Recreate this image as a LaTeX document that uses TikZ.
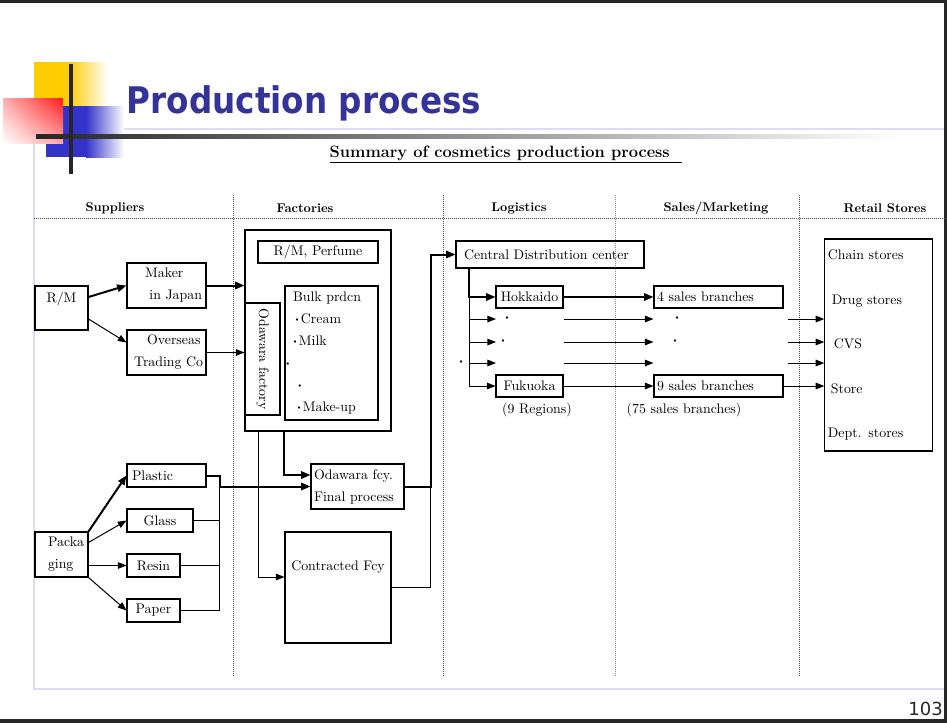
\documentclass[tikz,border=0pt]{standalone}
\usepackage{fontspec}
\usepackage{graphicx}
\usetikzlibrary{calc,arrows.meta,shadings}
\newfontfamily\titlefont{DejaVu Sans}
\newcommand{\bodyfont}{\fontsize{10.4}{16.5}\selectfont}
\newcommand{\midot}{\raisebox{1.4pt}{\scalebox{0.45}{$\bullet$}}}
\definecolor{TitleBlue}{HTML}{333399}
\definecolor{FrameLav}{HTML}{DCDCF4}
\definecolor{SqYellow}{HTML}{FFCC00}
\definecolor{SqBlue}{HTML}{3333CC}
\definecolor{SqRed}{HTML}{FF1A1A}

\begin{document}
\begin{tikzpicture}[x=0.75pt,y=-0.75pt,
    box/.style={draw,line width=0.8pt,inner sep=2pt,font=\bodyfont},
    boxsize/.style 2 args={minimum width=#1*0.75pt,minimum height=#2*0.75pt},
    hdr/.style={font=\bfseries\fontsize{9.5}{11}\selectfont},
    sepline/.style={densely dotted,line width=0.5pt,black!70},
    arr/.style={line width=0.75pt,-{Stealth[length=6.5pt,width=5pt,inset=0pt]}},
    thickarr/.style={line width=1.5pt,-{Stealth[length=7pt,width=5.5pt,inset=0pt]}},
    wire/.style={line width=0.75pt},
    ellip/.style={inner sep=0pt,font=\bodyfont}]

    \useasboundingbox (0,0) rectangle (947,722);

    % Slide frame
    \draw[FrameLav,line width=1.5pt] (34,129) rectangle (945,689);
    \draw[line width=2.2pt,black!85] (0,1.5) -- (947,1.5);
    \draw[line width=2.2pt,black!85] (945.8,0) -- (945.8,722);
    \draw[line width=3pt,black!85] (0,720.5) -- (947,720.5);

    % Coloured squares of the title
    \fill[SqYellow] (34,62) rectangle (68,107);
    \shade[left color=SqYellow,right color=white] (68,62) rectangle (108,107);
    \fill[SqBlue] (46,106) rectangle (86,157);
    \shade[left color=SqBlue,right color=white] (86,106) rectangle (124,157);
    \shade[upper right=SqRed,upper left=SqRed!35,lower right=SqRed!40,lower left=white] (3,98) rectangle (63,143);

    % Cross lines of the title
    \shade[left color=black!85,right color=white] (36,134) rectangle (900,138.5);
    \draw[line width=3pt,black!85] (71,64) -- (71,174);

    % Title and summary line
    \node[anchor=base west,text=TitleBlue,font=\titlefont\bfseries\fontsize{27.5}{30}\selectfont] (title) at (122,113) {\scalebox{0.89}[1]{Production process}};
    \node[anchor=base west,font=\bfseries\fontsize{12.3}{14}\selectfont] (summary) at (325,157) {\underline{Summary of cosmetics production process\ \ }};
    \node[anchor=base east,text=black!85,font=\titlefont\fontsize{13.5}{15}\selectfont,inner sep=0pt] (pagenum) at (943,715) {103};

    % Column separators
    \draw[sepline] (34,218) -- (947,218);
    \draw[sepline] (233,195) -- (233,677);
    \draw[sepline] (443,195) -- (443,677);
    \draw[sepline,black!45] (615,195) -- (615,677);
    \draw[sepline] (799,195) -- (799,677);

    % Column headings
    \node[hdr] (hsup) at (115,208) {Suppliers};
    \node[hdr] (hfac) at (305,208) {Factories};
    \node[hdr] (hlog) at (519,208) {Logistics};
    \node[hdr] (hsal) at (716,208) {Sales/Marketing};
    \node[hdr] (hret) at (885,208) {Retail Stores};

    % Suppliers
    \node[box,boxsize={53}{44},align=center] (rm) at (61.5,308) {R/M\\~};
    \node[box,boxsize={79}{45},inner xsep=3pt,text width=53.25pt,align=right] (maker) at (166.5,285.5) {Maker\hspace*{14pt}\mbox{}\\in Japan};
    \node[box,boxsize={79}{45},inner xsep=2pt,text width=55pt,align=right] (overseas) at (166.5,352.5) {Overseas\hspace*{2pt}\mbox{}\\Trading Co};
    \node[box,boxsize={53}{45},inner xsep=9.75pt,text width=20.25pt,align=left] (pack) at (61.5,554.5) {Packa\\ging};
    \node[box,boxsize={79}{23},inner xsep=3.75pt,text width=51.75pt,align=left] (plastic) at (166.5,475.5) {Plastic};
    \node[box,boxsize={66}{23}] (glass) at (160,520.5) {Glass};
    \node[box,boxsize={53}{23}] (resin) at (153.5,565.5) {Resin};
    \node[box,boxsize={53}{23}] (paper) at (153.5,610.5) {Paper};

    % Factories
    \node[box,boxsize={146}{201}] (fac) at (318,330.5) {};
    \node[box,boxsize={120}{22}] (rmperf) at (318,252) {R/M, Perfume};
    \node[box,boxsize={93}{134},inner xsep=6pt,text width=57.75pt,align=left] (bulk) at (331.5,353)
        {Bulk prdcn\\\hspace*{2pt}\midot\,Cream\\\hspace*{0.5pt}\midot\,Milk\\\hspace*{-5pt}\midot\\\hspace*{4pt}\midot\\\hspace*{3.5pt}\midot\,Make-up};
    \node[box,boxsize={112}{35},rotate=-90] (odaw) at (262.5,359) {Odawara factory};
    \node[box,boxsize={93}{45},inner xsep=2.25pt,text width=65.25pt,align=left] (odafcy) at (357.5,486.5) {Odawara fcy.\\Final process};
    \node[box,boxsize={106}{111},align=center] (contr) at (338,587.5) {Contracted Fcy\\~\\~};

    % Logistics
    \node[box,boxsize={188}{27},inner xsep=6pt,text width=129pt,align=left] (cdc) at (550,254.5) {Central Distribution center};
    \node[box,boxsize={67}{22}] (hok) at (529.5,297) {Hokkaido};
    \node[box,boxsize={67}{22}] (fuk) at (529.5,386) {Fukuoka};
    \node[font=\bodyfont] (regions) at (537,410) {(9 Regions)};
    \coordinate (r1) at (496,319);
    \coordinate (r2) at (496,342);
    \coordinate (r3) at (496,363);
    \node[ellip] (ld1) at (507,319) {\midot};
    \node[ellip] (ld2) at (503,342) {\midot};
    \node[ellip] (ld3) at (461,363) {\midot};

    % Sales/Marketing
    \node[box,boxsize={129}{22},inner xsep=2.25pt,text width=92.25pt,align=left] (s4) at (718.5,297) {4 sales branches};
    \node[box,boxsize={129}{22},inner xsep=2.25pt,text width=92.25pt,align=left] (s9) at (718.5,386) {9 sales branches};
    \node[font=\bodyfont] (branches) at (684,410) {(75 sales branches)};
    \node[ellip] (sd1) at (677,319) {\midot};
    \node[ellip] (sd2) at (675,342) {\midot};

    % Retail stores
    \node[box,boxsize={107}{212},inner xsep=2.25pt,text width=76pt,align=left,font=\fontsize{10.4}{33.4}\selectfont] (retail) at (878.5,345)
        {Chain stores\\\hspace*{3pt}Drug stores\\\hspace*{4.5pt}CVS\\\hspace*{2.3pt}Store\\Dept. stores};

    % Raw materials into the factory
    \draw[thickarr] ($(rm.east)+(0,-11)$) -- (maker.west);
    \draw[arr] ($(rm.east)+(0,11)$) -- ($(overseas.west)+(0,-10)$);
    \draw[thickarr] (maker.east) -- (maker.east -| fac.west);
    \draw[arr] (overseas.east) -- (overseas.east -| fac.west);

    % Packaging materials
    \draw[thickarr] (pack.north east) -- (plastic.west);
    \draw[arr] ($(pack.north east)+(0,11)$) -- (glass.west);
    \draw[arr] (pack.east |- resin.west) -- (resin.west);
    \draw[arr] (pack.south east) -- (paper.west);
    \coordinate (pbus) at ($(plastic.east)+(13,0)$);
    \draw[thickarr] (plastic.east) -- (pbus) |- (odafcy.west);
    \draw[wire] (pbus) -- (pbus |- paper.east);
    \draw[wire] (glass.east) -- (glass.east -| pbus);
    \draw[wire] (resin.east) -- (resin.east -| pbus);
    \draw[wire] (paper.east) -- (paper.east -| pbus);

    % Factory outputs
    \draw[arr] ($(fac.south west)+(14,0)$) |- ($(contr.west)+(0,-10.5)$);
    \draw[thickarr] (bulk.west |- fac.south) |- ($(odafcy.west)+(0,-11.5)$);
    \coordinate (lbus) at ($(odafcy.east)+(26,0)$);
    \draw[thickarr] (odafcy.east) -- (lbus) |- (cdc.west);
    \draw[wire] (contr.east) -| (lbus);

    % Distribution to the regions
    \coordinate (cbus) at ($(cdc.south west)+(14,0)$);
    \draw[thickarr] (cbus) |- (hok.west);
    \draw[arr] (cbus |- hok.west) |- (fuk.west);
    \draw[arr] (cbus |- r1) -- (r1);
    \draw[arr] (cbus |- r2) -- (r2);
    \draw[arr] (cbus |- r3) -- (r3);

    % Regions to sales branches
    \draw[thickarr] (hok.east) -- (s4.west);
    \draw[arr] (fuk.east) -- (s9.west);
    \draw[arr] (hok.east |- r1) -- (s4.west |- r1);
    \draw[arr] (hok.east |- r2) -- (s4.west |- r2);
    \draw[arr] (hok.east |- r3) -- (s4.west |- r3);

    % Sales branches to stores
    \draw[arr] ($(s4.east |- r1)+(4,0)$) -- (retail.west |- r1);
    \draw[arr] ($(s4.east |- r2)+(4,0)$) -- (retail.west |- r2);
    \draw[arr] ($(s4.east |- r3)+(4,0)$) -- (retail.west |- r3);
    \draw[arr] (s9.east) -- (s9.east -| retail.west);

\end{tikzpicture}
\end{document}
